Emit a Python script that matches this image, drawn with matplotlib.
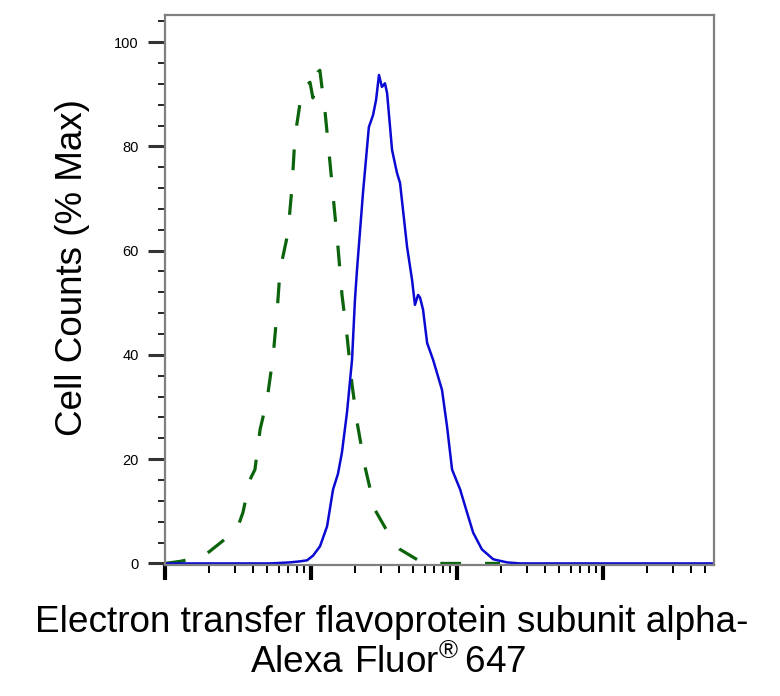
import numpy as np
import matplotlib
matplotlib.use("Agg")
import matplotlib.pyplot as plt
from matplotlib.ticker import LogLocator, NullFormatter, MultipleLocator

# Valores (intensidade em escala log, contagem em % do máximo)
blue_x = [1, 3.82, 5.24, 6.14, 7.18, 8.41, 9.40, 10.33, 11.53, 12.88,
          14.16, 15.3, 16.29, 17.66, 19.10, 20.0, 20.65, 22.7, 24.9, 26.6,
          27.9, 29.2, 30.6, 32.1, 33.2, 35.9, 38.8, 40.7, 45.5, 49.2, 51.5,
          54.1, 55.8, 58.5, 62.4, 68.5, 78.9, 85.5, 92.5, 105, 117, 129, 148,
          177, 220, 270, 5750]
blue_y = [0, 0, 0, 0.1, 0.2, 0.4, 0.6, 1.5, 3.3, 7.1,
          14.2, 17.2, 21.3, 29.1, 39.1, 50.6, 56.3, 71.1, 83.7, 86.0,
          88.9, 93.7, 91.4, 92.1, 90.2, 79.3, 74.9, 73.0, 60.7, 54.4, 49.6,
          51.5, 51.0, 48.7, 42.3, 39.1, 33.3, 26.2, 18.0, 14.2, 9.8, 5.9, 2.7,
          0.8, 0.2, 0, 0]

green_x = [1, 1.27, 1.82, 2.31, 3.11, 3.42, 3.82, 4.13, 4.48, 5.0, 5.5, 5.85,
           6.14, 6.95, 7.41, 7.76, 8.41, 8.81, 9.84, 10.3, 11.2, 11.5, 11.9,
           12.5, 13.5, 14.4, 15.3, 16.3, 17.7, 19.1, 20.7, 23.4, 27.4, 34.8,
           40.7, 55.8, 73.0, 144, 197]
green_y = [0, 0.4, 1.3, 3.6, 6.5, 9.8, 16.1, 18.0, 25.7, 31.4, 39.7, 48.1,
           56.3, 63.4, 72.2, 81.8, 88.3, 91.2, 92.3, 89.3, 94.3, 94.6, 91.2,
           86.4, 76.8, 68.4, 60.7, 51.5, 43.3, 34.3, 27.0, 18.6, 10.3, 5.2,
           2.7, 0.4, 0, 0, 0]

y_ticks = [0, 20, 40, 60, 80, 100]

plt.rcParams['mathtext.fontset'] = 'custom'
plt.rcParams['mathtext.rm'] = 'Liberation Sans'

W, H = 780, 696
fig = plt.figure(figsize=(W / 100, H / 100), dpi=100)
ax = fig.add_axes([165 / W, 1 - 565 / H, (714 - 165) / W, (565 - 15) / H])

ax.plot(green_x, green_y, color='#0b640b', lw=2.3, dashes=(6.5, 7.5),
        solid_capstyle='butt')
ax.plot(blue_x, blue_y, color='#0a0ad2', lw=1.8)

ax.set_xscale('log')
ax.set_xlim(1, 10 ** 3.76)
ax.set_ylim(-0.3, 105.2)

ax.xaxis.set_major_locator(LogLocator(base=10, numticks=10))
ax.xaxis.set_minor_locator(LogLocator(base=10, subs=np.arange(2, 10), numticks=10))
ax.xaxis.set_major_formatter(NullFormatter())
ax.xaxis.set_minor_formatter(NullFormatter())
ax.tick_params(axis='x', which='major', length=11, width=3, direction='out',
               color='black')
ax.tick_params(axis='x', which='minor', length=6, width=1.4, direction='out',
               color='black')

ax.set_yticks(y_ticks)
ax.set_yticklabels([str(v) for v in y_ticks], family='Liberation Sans',
                   fontsize=10.5)
ax.yaxis.set_minor_locator(MultipleLocator(4))
ax.tick_params(axis='y', which='major', length=12, width=2.2, pad=7,
               color='#333333')
ax.tick_params(axis='y', which='minor', length=5, width=1.2, color='black')

for side in ['left', 'right', 'top', 'bottom']:
    ax.spines[side].set_color('#808080')
    ax.spines[side].set_linewidth(1.6)

fig.text(73 / W, 1 - 268 / H, 'Cell Counts (% Max)', rotation=90,
         ha='center', va='center', family='Liberation Sans', fontsize=26.5)
fig.text(392 / W, 1 - 632 / H, 'Electron transfer flavoprotein subunit alpha-',
         ha='center', va='baseline', family='Liberation Sans', fontsize=26.6)
fig.text(388 / W, 1 - 673 / H,
         r'$\mathrm{Alexa\ Fluor}^{\circledR}\,\mathrm{647}$',
         ha='center', va='baseline', fontsize=26.6)

fig.savefig('out.png', dpi=100)
